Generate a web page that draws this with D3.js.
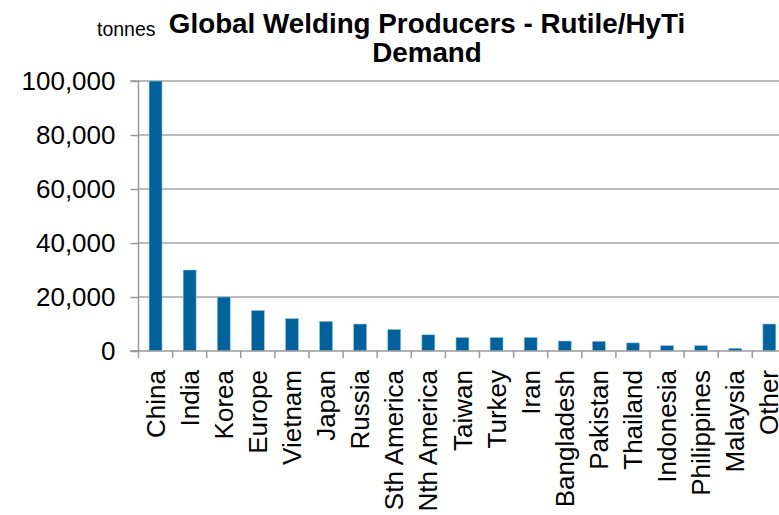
<!DOCTYPE html>
<html><head><meta charset="utf-8">
<script src="https://cdn.jsdelivr.net/npm/d3@7"></script>
<style>body{margin:0;background:#fff;overflow:hidden}svg{display:block}</style>
</head><body>
<script>
const categories = ["China","India","Korea","Europe","Vietnam","Japan","Russia","Sth America","Nth America","Taiwan","Turkey","Iran","Bangladesh","Pakistan","Thailand","Indonesia","Philippines","Malaysia","Other"];
const values = [100000,30000,20000,15000,12000,11000,10000,8000,6000,5000,5000,5000,3700,3600,3000,2000,2000,1000,10000];
const yTicks = [0,20000,40000,60000,80000,100000];
const titleLines = ["Global Welding Producers - Rutile/HyTi","Demand"];
const unitLabel = "tonnes";

const W = 779, H = 515;
const svg = d3.select("body").append("svg").attr("width", W).attr("height", H);
const font = "Arial, 'Liberation Sans', sans-serif";

const x0 = 138.5, bandW = 34.1;
const x = d3.scaleBand().domain(categories).range([x0, x0 + bandW * categories.length]).paddingInner(0.62).paddingOuter(0.31);
const y = d3.scaleLinear().domain([0, 100000]).range([351, 81]);

// gridlines
svg.append("g").selectAll("line").data(yTicks.filter(d => d > 0)).join("line")
  .attr("x1", x0).attr("x2", W).attr("y1", d => y(d)).attr("y2", d => y(d))
  .attr("stroke", "#a4a4a4").attr("stroke-width", 1.5);

// y axis
const yAxis = svg.append("g").attr("transform", `translate(${x0},0)`)
  .call(d3.axisLeft(y).tickValues(yTicks).tickSize(8).tickPadding(15).tickFormat(d3.format(",")));
yAxis.select(".domain").attr("stroke", "#9a9a9a").attr("stroke-width", 1.5).attr("d", `M-8,${y(100000)}H0V${y(0)}H-8`);
yAxis.selectAll(".tick line").attr("stroke", "#9a9a9a").attr("stroke-width", 1.5);
yAxis.selectAll(".tick text").attr("font-family", font).attr("font-size", 26).attr("fill", "#000");

// bars
svg.append("g").selectAll("rect").data(categories).join("rect")
  .attr("x", d => x(d)).attr("width", x.bandwidth())
  .attr("y", (d, i) => y(values[i])).attr("height", (d, i) => y(0) - y(values[i]))
  .attr("fill", "#00629D").attr("stroke", "#9cc3dd").attr("stroke-width", 0.6);

// x axis
const bx = d3.scaleLinear().domain([0, categories.length]).range([x0, x0 + bandW * categories.length]);
svg.append("line").attr("x1", x0 - 8).attr("x2", W).attr("y1", y(0)).attr("y2", y(0))
  .attr("stroke", "#9a9a9a").attr("stroke-width", 1.5);
svg.append("g").selectAll("line").data(d3.range(categories.length + 1)).join("line")
  .attr("x1", d => bx(d)).attr("x2", d => bx(d)).attr("y1", y(0)).attr("y2", y(0) + 7)
  .attr("stroke", "#9a9a9a").attr("stroke-width", 1.5);

svg.append("g").selectAll("text").data(categories).join("text")
  .attr("transform", d => `translate(${x(d) + x.bandwidth() / 2},370) rotate(-90)`)
  .attr("text-anchor", "end").attr("dy", "0.35em")
  .attr("font-family", font).attr("font-size", 26).attr("fill", "#000")
  .text(d => d);

// title
svg.append("text").attr("x", 97).attr("y", 36).attr("font-family", font).attr("font-size", 19.5).text(unitLabel);
svg.append("g").selectAll("text").data(titleLines).join("text")
  .attr("x", 427).attr("y", (d, i) => 33 + i * 29).attr("text-anchor", "middle")
  .attr("font-family", font).attr("font-size", 27.8).attr("font-weight", "bold").attr("fill", "#000")
  .text(d => d);
</script>
</body></html>
